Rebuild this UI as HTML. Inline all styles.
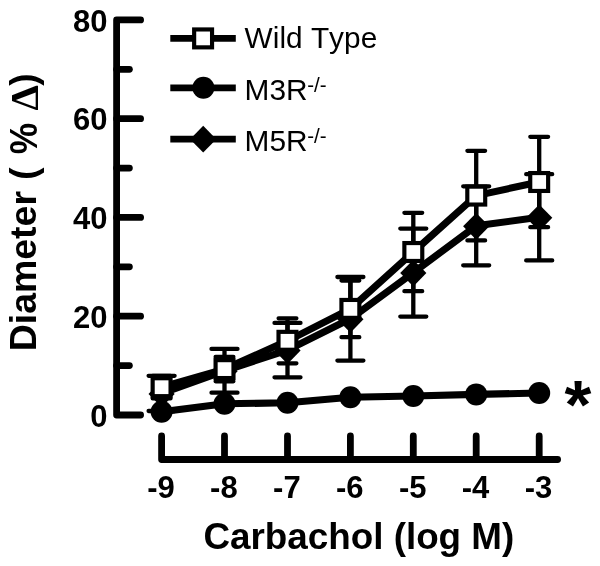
<!DOCTYPE html>
<html lang="en"><head><meta charset="utf-8"><title>Carbachol dose response</title>
<style>html,body{margin:0;padding:0;background:#fff}body{width:600px;height:566px;overflow:hidden}svg{display:block}text{font-kerning:none;font-family:"Liberation Sans",Arial,sans-serif;fill:#000}</style>
</head><body>
<svg width="600" height="566" viewBox="0 0 600 566">
<rect width="600" height="566" fill="#fff"/>
<g fill="none" stroke="#000" stroke-width="6.8" stroke-linecap="round" stroke-linejoin="round">
<path d="M140.6 19.9 H116.6 V415.0 H140.6"/>
<path d="M116.6 118.7 H140.6"/>
<path d="M116.6 217.4 H140.6"/>
<path d="M116.6 316.2 H140.6"/>
<path d="M116.6 69.3 H129.4"/>
<path d="M116.6 168.1 H129.4"/>
<path d="M116.6 266.8 H129.4"/>
<path d="M116.6 365.6 H129.4"/>
<path d="M161.6 436 V459.5 H557.6"/>
<path d="M224.5 436 V459.5"/>
<path d="M287.5 436 V459.5"/>
<path d="M350.4 436 V459.5"/>
<path d="M413.3 436 V459.5"/>
<path d="M476.2 436 V459.5"/>
<path d="M539.2 436 V459.5"/>
</g>
<g fill="none" stroke="#000" stroke-width="4.3" stroke-linecap="round">
<path d="M161.6 375.8 V411.0 M148.6 375.8 H174.6 M148.6 411.0 H174.6"/>
<path d="M224.5 348.9 V392.7 M211.5 348.9 H237.5 M211.5 392.7 H237.5"/>
<path d="M287.5 322.9 V377.3 M274.5 322.9 H300.5 M274.5 377.3 H300.5"/>
<path d="M350.4 277.0 V360.6 M337.4 277.0 H363.4 M337.4 360.6 H363.4"/>
<path d="M413.3 228.6 V316.6 M400.3 228.6 H426.3 M400.3 316.6 H426.3"/>
<path d="M476.2 186.3 V265.3 M463.2 186.3 H489.2 M463.2 265.3 H489.2"/>
<path d="M539.2 174.2 V260.4 M526.2 174.2 H552.2 M526.2 260.4 H552.2"/>
</g>
<polyline points="161.6,393.4 224.5,370.8 287.5,350.1 350.4,318.8 413.3,272.6 476.2,225.8 539.2,217.3" fill="none" stroke="#000" stroke-width="7.1" stroke-linejoin="round"/>
<path d="M161.6 380.5 L174.7 393.9 L161.6 407.3 L148.5 393.9 Z" fill="#000"/>
<path d="M224.5 357.9 L237.6 371.3 L224.5 384.7 L211.4 371.3 Z" fill="#000"/>
<path d="M287.5 337.2 L300.6 350.6 L287.5 364.0 L274.4 350.6 Z" fill="#000"/>
<path d="M350.4 305.9 L363.5 319.3 L350.4 332.7 L337.3 319.3 Z" fill="#000"/>
<path d="M413.3 259.7 L426.4 273.1 L413.3 286.5 L400.2 273.1 Z" fill="#000"/>
<path d="M476.2 212.9 L489.4 226.3 L476.2 239.7 L463.1 226.3 Z" fill="#000"/>
<path d="M539.2 204.4 L552.3 217.8 L539.2 231.2 L526.1 217.8 Z" fill="#000"/>
<polyline points="161.6,411.7 224.5,403.8 287.5,402.8 350.4,397.2 413.3,396.0 476.2,394.4 539.2,393.0" fill="none" stroke="#000" stroke-width="7.1" stroke-linejoin="round"/>
<circle cx="161.6" cy="411.7" r="11"/>
<circle cx="224.5" cy="403.8" r="11"/>
<circle cx="287.5" cy="402.8" r="11"/>
<circle cx="350.4" cy="397.2" r="11"/>
<circle cx="413.3" cy="396.0" r="11"/>
<circle cx="476.2" cy="394.4" r="11"/>
<circle cx="539.2" cy="393.0" r="11"/>
<g fill="none" stroke="#000" stroke-width="4.3" stroke-linecap="round">
<path d="M161.6 376.0 V398.4 M152.7 376.0 H170.5 M152.7 398.4 H170.5"/>
<path d="M224.5 356.9 V381.3 M215.6 356.9 H233.4 M215.6 381.3 H233.4"/>
<path d="M287.5 318.3 V363.3 M278.6 318.3 H296.4 M278.6 363.3 H296.4"/>
<path d="M350.4 280.6 V337.2 M341.5 280.6 H359.3 M341.5 337.2 H359.3"/>
<path d="M413.3 212.8 V291.2 M404.4 212.8 H422.2 M404.4 291.2 H422.2"/>
<path d="M476.2 150.8 V240.4 M467.4 150.8 H485.1 M467.4 240.4 H485.1"/>
<path d="M539.2 136.8 V227.2 M530.3 136.8 H548.1 M530.3 227.2 H548.1"/>
</g>
<polyline points="161.6,387.2 224.5,369.1 287.5,340.8 350.4,308.9 413.3,252.0 476.2,195.6 539.2,182.0" fill="none" stroke="#000" stroke-width="7.1" stroke-linejoin="round"/>
<rect x="152.65" y="378.25" width="17.9" height="17.9" fill="#fff" stroke="#000" stroke-width="4.15"/>
<rect x="215.58" y="360.15" width="17.9" height="17.9" fill="#fff" stroke="#000" stroke-width="4.15"/>
<rect x="278.51" y="331.85" width="17.9" height="17.9" fill="#fff" stroke="#000" stroke-width="4.15"/>
<rect x="341.44" y="299.95" width="17.9" height="17.9" fill="#fff" stroke="#000" stroke-width="4.15"/>
<rect x="404.37" y="243.05" width="17.9" height="17.9" fill="#fff" stroke="#000" stroke-width="4.15"/>
<rect x="467.30" y="186.65" width="17.9" height="17.9" fill="#fff" stroke="#000" stroke-width="4.15"/>
<rect x="530.23" y="173.05" width="17.9" height="17.9" fill="#fff" stroke="#000" stroke-width="4.15"/>
<path d="M170.3 38.3 H235.8" stroke="#000" stroke-width="6.7" fill="none"/>
<path d="M170.3 87.8 H235.8" stroke="#000" stroke-width="6.7" fill="none"/>
<path d="M170.3 139.2 H235.8" stroke="#000" stroke-width="6.7" fill="none"/>
<rect x="194.15" y="29.45" width="17.9" height="17.9" fill="#fff" stroke="#000" stroke-width="4.15"/>
<circle cx="203.4" cy="87.7" r="11"/>
<path d="M203.2 125.8 L216.3 139.2 L203.2 152.6 L190.1 139.2 Z" fill="#000"/>
<g font-size="29.2">
<text transform="translate(244.6 48.4) scale(1.022 1)">Wild Type</text>
<text transform="translate(244.6 100.4) scale(1.022 1)">M3R</text>
<text transform="translate(244.6 151.3) scale(1.022 1)">M5R</text>
</g>
<g font-size="20.5">
<text x="307.2" y="92">-/-</text>
<text x="307.2" y="142.9">-/-</text>
</g>
<g font-size="31" font-weight="bold" text-anchor="end">
<text x="107.6" y="31.5">80</text>
<text x="107.6" y="130.3">60</text>
<text x="107.6" y="229.0">40</text>
<text x="107.6" y="327.8">20</text>
<text x="107.6" y="426.6">0</text>
</g>
<g font-size="31" font-weight="bold" text-anchor="middle">
<text x="161.0" y="498">-9</text>
<text x="223.9" y="498">-8</text>
<text x="286.9" y="498">-7</text>
<text x="349.8" y="498">-6</text>
<text x="412.7" y="498">-5</text>
<text x="475.6" y="498">-4</text>
<text x="538.6" y="498">-3</text>
</g>
<text x="203.5" y="548.7" font-size="36.8" font-weight="bold">Carbachol (log M)</text>
<g transform="translate(36.3 351.3) rotate(-90)" font-size="37" font-weight="bold">
<text x="0" y="0" textLength="160.3" lengthAdjust="spacingAndGlyphs">Diameter</text>
<text x="171.5" y="0">(</text>
<text transform="translate(197 0.9) scale(0.955 1.07)">%</text>
<text transform="translate(240.9 2.1) scale(1.01 1)" style="font-family:'Liberation Serif',serif;font-weight:bold;font-size:40px">&#916;</text>
<text x="265.5" y="0">)</text>
</g>
<text x="564.6" y="428" font-size="69" font-weight="bold">*</text>
</svg>
</body></html>
